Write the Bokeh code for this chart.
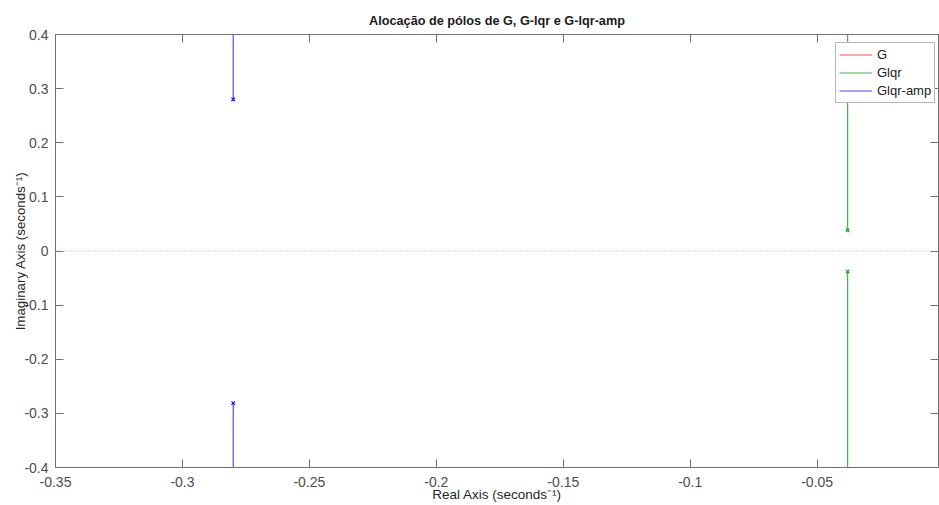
from bokeh.plotting import figure
from bokeh.models import (Range1d, LinearAxis, FixedTicker, Span, Legend, LegendItem,
                          CustomLabelingPolicy)
from bokeh.embed import file_html
from bokeh.resources import INLINE

# ---- data ----
title_text = "Alocação de pólos de G, G-lqr e G-lqr-amp"
series_names = ["G", "Glqr", "Glqr-amp"]

# open-loop poles of G (on the imaginary axis, just outside the visible window)
g_pole_re = [0.0, 0.0]
g_pole_im = [0.5, -0.5]
# closed-loop poles (real, imaginary)
glqr_pole_re = [-0.038, -0.038]
glqr_pole_im = [0.038, -0.038]
glqr_amp_pole_re = [-0.28, -0.28]
glqr_amp_pole_im = [0.28, -0.281]
# root-locus branches leave the poles vertically, towards +/- infinity
branch_end_im = [1.0, -1.0]

x_ticks = [-0.35, -0.3, -0.25, -0.2, -0.15, -0.1, -0.05]
x_tick_labels = ["-0.35", "-0.3", "-0.25", "-0.2", "-0.15", "-0.1", "-0.05"]
y_ticks = [-0.4, -0.3, -0.2, -0.1, 0.0, 0.1, 0.2, 0.3, 0.4]
y_tick_labels = ["-0.4", "-0.3", "-0.2", "-0.1", "0", "0.1", "0.2", "0.3", "0.4"]

FONT = "Liberation Sans"
AX = "#707070"
TXT = "#4d4d4d"

p = figure(width=939, height=505, output_backend="svg", toolbar_location=None,
           x_range=Range1d(-0.35, -0.0022), y_range=Range1d(-0.4, 0.4),
           min_border_left=55, min_border_right=1, min_border_top=34, min_border_bottom=38,
           x_axis_location=None, y_axis_location=None)
p.grid.visible = False
p.outline_line_color = AX
p.background_fill_color = "white"
p.border_fill_color = "white"

p.title.text = title_text
p.title.text_font = FONT
p.title.text_font_size = "12.7px"
p.title.text_font_style = "bold"
p.title.text_color = "#1a1a1a"
p.title.align = "center"
p.title.offset = 0
p.title.standoff = 14

def style_axis(ax, ticks, labels, size):
    ax.ticker = FixedTicker(ticks=ticks)
    ax.axis_line_color = AX
    ax.major_tick_line_color = AX
    ax.major_tick_in = 8
    ax.major_tick_out = 0
    ax.minor_tick_line_color = None
    ax.major_label_text_font = FONT
    ax.major_label_text_font_size = size
    ax.major_label_text_color = TXT
    ax.major_label_overrides = dict(zip(ticks, labels))

xb = LinearAxis(axis_label="Real Axis (seconds⁻¹)")
style_axis(xb, x_ticks, x_tick_labels, "14px")
xb.major_label_standoff = 9
xb.axis_label_standoff = -3
xb.axis_label_text_font = FONT
xb.axis_label_text_font_size = "13.5px"
xb.axis_label_text_font_style = "normal"
xb.axis_label_text_color = "#262626"
p.add_layout(xb, "below")

yl = LinearAxis(axis_label="Imaginary Axis (seconds⁻¹)")
style_axis(yl, y_ticks, y_tick_labels, "14px")
yl.major_label_standoff = 7
yl.axis_label_standoff = -7
yl.axis_label_text_font = FONT
yl.axis_label_text_font_size = "13.3px"
yl.axis_label_text_font_style = "normal"
yl.axis_label_text_color = "#262626"
p.add_layout(yl, "left")

# box axes on top and right: ticks only, no labels drawn
no_labels = """
const all = [...indices];
for (const i of all) indices.unset(i);
return indices;
"""
xt = LinearAxis()
style_axis(xt, x_ticks, [""] * len(x_ticks), "1px")
xt.major_label_standoff = 0
xt.major_label_policy = CustomLabelingPolicy(code=no_labels)
p.add_layout(xt, "above")
yr = LinearAxis()
style_axis(yr, y_ticks, [""] * len(y_ticks), "1px")
yr.major_label_standoff = 0
yr.major_label_policy = CustomLabelingPolicy(code=no_labels)
p.add_layout(yr, "right")

# zero line
p.add_layout(Span(location=0, dimension="width", line_color="#b0b0b0",
                  line_dash="1 2", line_width=1))

RED, GREEN, BLUE = "#ff4d4d", "#40b840", "#4d4dff"

# G branches (outside the visible window)
r_g = None
for re_, im_, end_ in zip(g_pole_re, g_pole_im, branch_end_im):
    r = p.line([re_, re_], [im_, end_], line_color=RED, line_width=1.2)
    r_g = r_g or r

# Glqr branches
r_glqr = None
for re_, im_, end_ in zip(glqr_pole_re, glqr_pole_im, branch_end_im):
    r = p.line([re_, re_], [im_, end_], line_color=GREEN, line_width=1.2)
    r_glqr = r_glqr or r
p.scatter(glqr_pole_re, glqr_pole_im, marker="x", size=5, line_color="#10a010", line_width=1.2)

# Glqr-amp branches
r_amp = None
for re_, im_, end_ in zip(glqr_amp_pole_re, glqr_amp_pole_im, branch_end_im):
    r = p.line([re_, re_], [im_, end_], line_color=BLUE, line_width=1.2)
    r_amp = r_amp or r
p.scatter(glqr_amp_pole_re, glqr_amp_pole_im, marker="x", size=5, line_color="#1010ff", line_width=1.2)

legend = Legend(items=[LegendItem(label=series_names[0], renderers=[r_g]),
                       LegendItem(label=series_names[1], renderers=[r_glqr]),
                       LegendItem(label=series_names[2], renderers=[r_amp])],
                location=(780, 364))
legend.label_text_font = FONT
legend.label_text_font_size = "13px"
legend.label_text_color = "#1a1a1a"
legend.glyph_width = 33
legend.glyph_height = 17
legend.label_height = 17
legend.label_standoff = 5
legend.spacing = 1
legend.padding = 3
legend.margin = 0
legend.border_line_color = AX
legend.background_fill_color = "white"
legend.background_fill_alpha = 1
p.add_layout(legend, "center")

open("out.html", "w").write(file_html(p, INLINE))
